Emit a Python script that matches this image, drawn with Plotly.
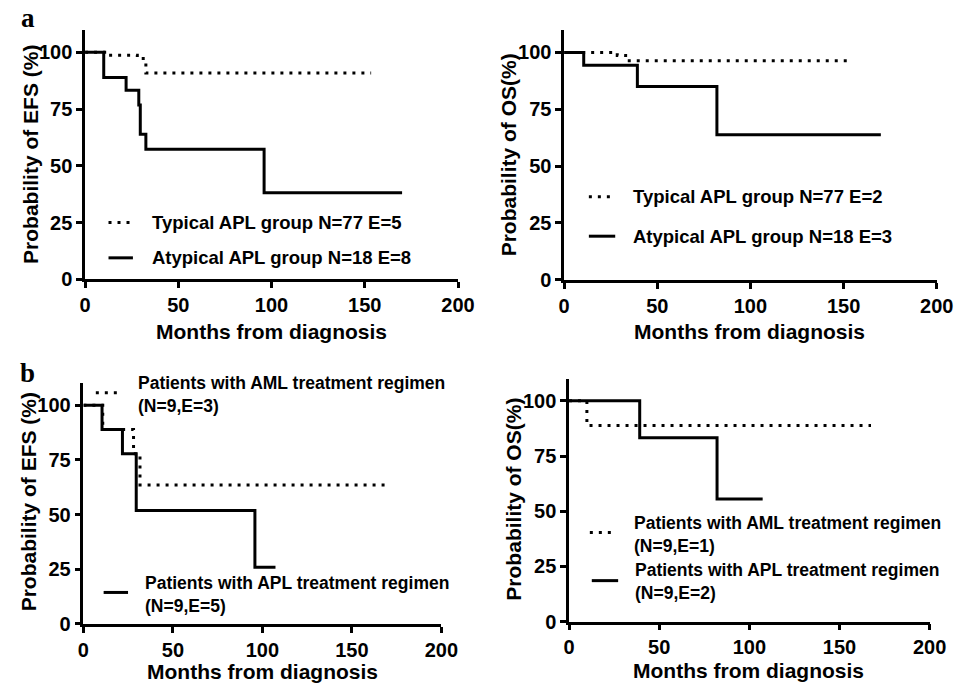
import plotly.graph_objects as go

# ---- Kaplan-Meier step data (months, survival %) ----
# Panel a, EFS
a_efs_typ_t = [0, 10.5, 28.0, 32.6, 153.4]
a_efs_typ_s = [100, 98.7, 97.2, 90.9, 90.9]
a_efs_aty_t = [0, 10.0, 22.0, 28.8, 29.6, 32.6, 96.0, 170.0]
a_efs_aty_s = [100, 88.9, 83.3, 76.8, 63.9, 57.3, 38.2, 38.2]
# Panel a, OS
a_os_typ_t = [0, 28.5, 33.0, 152.0]
a_os_typ_s = [100, 98.7, 96.3, 96.3]
a_os_aty_t = [0, 10.5, 39.3, 82.0, 170.0]
a_os_aty_s = [100, 94.4, 85.0, 63.8, 63.8]
# Panel b, EFS
b_efs_aml_t = [0, 10.8, 28.0, 31.6, 168.6]
b_efs_aml_s = [100, 88.9, 77.8, 63.5, 63.5]
b_efs_apl_t = [0, 10.4, 21.8, 29.5, 95.8, 107.3]
b_efs_apl_s = [100, 88.9, 77.8, 51.9, 25.9, 25.9]
# Panel b, OS
b_os_aml_t = [0, 9.9, 167.5]
b_os_aml_s = [100, 88.9, 88.9]
b_os_apl_t = [0, 39.2, 82.1, 107.4]
b_os_apl_s = [100, 83.3, 55.6, 55.6]

x_ticks = [0, 50, 100, 150, 200]
y_ticks = [0, 25, 50, 75, 100]

W, H = 971, 693
FONT = "Liberation Sans, Arial, sans-serif"


def fx(p):
    return p / W


def fy(p):
    return 1 - p / H


DOT = "3px,6px"
LW = 3

fig = go.Figure()

curves = [
    # (t, s, axis suffix, dotted?)
    (a_efs_typ_t, a_efs_typ_s, "", True),
    (a_efs_aty_t, a_efs_aty_s, "", False),
    (a_os_typ_t, a_os_typ_s, "2", True),
    (a_os_aty_t, a_os_aty_s, "2", False),
    (b_efs_aml_t, b_efs_aml_s, "3", True),
    (b_efs_apl_t, b_efs_apl_s, "3", False),
    (b_os_aml_t, b_os_aml_s, "4", True),
    (b_os_apl_t, b_os_apl_s, "4", False),
]
for t, s, sfx, dotted in curves:
    fig.add_trace(go.Scatter(
        x=t, y=s, mode="lines", line_shape="hv",
        line=dict(color="black", width=LW, dash=DOT if dotted else "solid"),
        xaxis="x" + sfx, yaxis="y" + sfx, showlegend=False, hoverinfo="skip",
    ))

# plot-area boxes in pixels: (left, right, top(110%), bottom(0%))
boxes = {
    "": (81, 463, 30, 284),
    "2": (571.7, 953.3, 30.2, 284.3),
    "3": (79.3, 446, 389.5, 634),
    "4": (576.7, 946, 384.9, 631.7),
}

tickfont = dict(family=FONT, size=20, color="black", weight="bold")
axis_common = dict(
    showline=True, linewidth=2.5, linecolor="black",
    ticks="outside", ticklen=6, tickwidth=2.5, tickcolor="black",
    showgrid=False, zeroline=False, tickfont=tickfont,
)
layout_axes = {}
for sfx, (l, r, t, b) in boxes.items():
    layout_axes["xaxis" + sfx] = dict(
        axis_common, domain=[fx(l), fx(r)], range=[0, 200],
        tickvals=x_ticks, anchor="y" + sfx,
    )
    layout_axes["yaxis" + sfx] = dict(
        axis_common, domain=[fy(b), fy(t)], range=[0, 110],
        tickvals=y_ticks, anchor="x" + sfx,
    )

annotations = []
shapes = []


def text(x, y, s, size=18, xanchor="left", angle=0, family=FONT):
    annotations.append(dict(
        x=fx(x), y=fy(y), xref="paper", yref="paper", text=s,
        showarrow=False, xanchor=xanchor, yanchor="middle", textangle=angle,
        align="left",
        font=dict(family=family, size=size, color="black", weight="bold"),
    ))


def sample(x0, x1, y, dotted):
    shapes.append(dict(
        type="line", xref="paper", yref="paper",
        x0=fx(x0), x1=fx(x1), y0=fy(y), y1=fy(y),
        line=dict(color="black", width=LW, dash=DOT if dotted else "solid"),
    ))


# axis titles
text(272, 337, "Months from diagnosis", 21, "center")
text(762, 337, "Months from diagnosis", 21, "center")
text(263, 682, "Months from diagnosis", 21, "center")
text(761, 681, "Months from diagnosis", 21, "center")
text(25, 157, "Probability of EFS (%)", 21, "center", -90)
text(515, 157, "Probability of OS(%)", 21, "center", -90)
text(23, 510, "Probability of EFS (%)", 21, "center", -90)
text(520, 507, "Probability of OS(%)", 21, "center", -90)

# panel letters
text(13, 18, "a", 27, "left", 0, "Liberation Serif, Times New Roman, serif")
text(12, 379, "b", 27, "left", 0, "Liberation Serif, Times New Roman, serif")

# legends
sample(105, 129, 226, True)
text(147, 226, "Typical APL group N=77 E=5", 18.5)
sample(105, 130, 262, False)
text(147, 262, "Atypical APL group N=18 E=8", 18.5)

sample(597, 622, 200, True)
text(640, 200, "Typical APL group N=77 E=2", 18.5)
sample(597, 624, 240, False)
text(640, 240, "Atypical APL group N=18 E=3", 18.5)

LG = 17.5
sample(92, 115, 399, True)
text(133, 401, "Patients with AML treatment regimen<br>(N=9,E=3)", LG)
sample(100, 125, 602, False)
text(140, 604, "Patients with APL treatment regimen<br>(N=9,E=5)", LG)

sample(598, 623, 541, True)
text(641, 543, "Patients with AML treatment regimen<br>(N=9,E=1)", LG)
sample(600, 627, 590, False)
text(642, 591, "Patients with APL treatment regimen<br>(N=9,E=2)", LG)

fig.update_layout(
    width=W, height=H, margin=dict(l=0, r=0, t=0, b=0),
    paper_bgcolor="white", plot_bgcolor="white",
    showlegend=False, annotations=annotations, shapes=shapes,
    **layout_axes,
)

fig.write_html("out.html")
